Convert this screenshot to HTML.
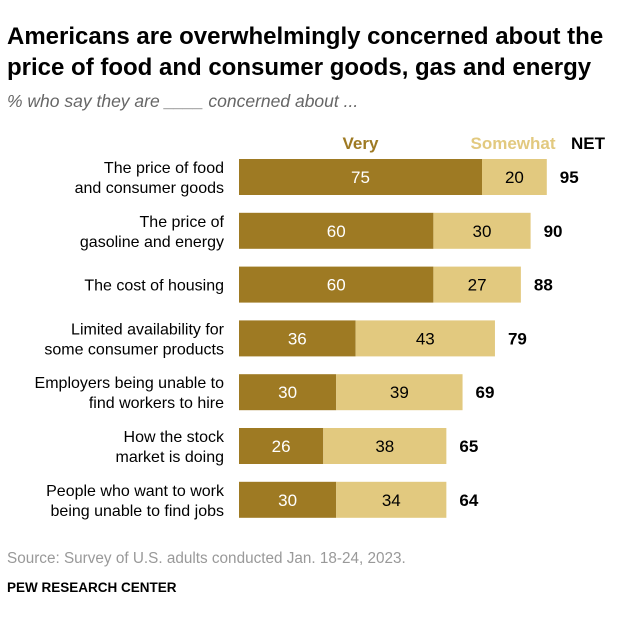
<!DOCTYPE html>
<html><head><meta charset="utf-8"><style>
body{margin:0;background:#fff;font-family:"Liberation Sans",sans-serif;}
#wrap{position:relative;width:639px;height:624px;overflow:hidden}
.t{position:absolute;white-space:nowrap}
</style></head><body><div id="wrap">
<div class="t" style="left:7px;top:21px;font-size:24px;font-weight:bold;line-height:31px;color:#000">Americans are overwhelmingly concerned about the<br>price of food and consumer goods, gas and energy</div>
<div class="t" style="left:7px;top:91px;font-size:17.5px;font-style:italic;color:#666">% who say they are ____ concerned about ...</div>
<svg id="svg" width="639" height="624" style="position:absolute;left:0;top:0"></svg>
<div class="t" style="left:7px;top:550px;font-size:15.3px;color:#999">Source: Survey of U.S. adults conducted Jan. 18-24, 2023.</div>
<div class="t" style="left:7px;top:580px;font-size:13.5px;font-weight:bold;color:#000">PEW RESEARCH CENTER</div>
</div>
<script>
const categories=[["The price of food","and consumer goods"],["The price of","gasoline and energy"],["The cost of housing"],["Limited availability for","some consumer products"],["Employers being unable to","find workers to hire"],["How the stock","market is doing"],["People who want to work","being unable to find jobs"]];
const veryValues=[75,60,60,36,30,26,30];
const somewhatValues=[20,30,27,43,39,38,34];
const netValues=[95,90,88,79,69,65,64];
const svg=document.getElementById('svg');const NS='http://www.w3.org/2000/svg';
const x0=239,k=3.24,y0=159,step=53.8,h=36,fs=17,lfs=16;
const xs=v=>x0+v*k, ys=i=>y0+i*step;
function mk(tag,a,txt){const e=document.createElementNS(NS,tag);for(const p in a)e.setAttribute(p,a[p]);if(txt!=null)e.textContent=txt;svg.appendChild(e);return e;}
let e;
e=mk('text',{x:xs(37.5),y:149,'text-anchor':'middle','font-size':fs,'font-weight':'bold',fill:'#9e7a23'},'Very');


e=mk('text',{x:513,y:149,'text-anchor':'middle','font-size':fs,'font-weight':'bold',fill:'#e2c97f'},'Somewhat');


e=mk('text',{x:588,y:149,'text-anchor':'middle','font-size':fs,'font-weight':'bold',fill:'#000'},'NET');


categories.forEach((c,i)=>{
 const y=ys(i),cy=y+h/2+6;
 const lab=mk('text',{x:224,'text-anchor':'end','font-size':lfs,fill:'#000'});
 
 
 c.forEach((l,j)=>{const ts=document.createElementNS(NS,'tspan');ts.setAttribute('x',224);ts.setAttribute('y',c.length==1?cy:cy-10+j*20);ts.textContent=l;lab.appendChild(ts);});
 const v=veryValues[i],s=somewhatValues[i];
 e=mk('rect',{x:xs(0),y:y,width:v*k,height:h,fill:'#9e7a23'});
 
 
 e=mk('rect',{x:xs(v),y:y,width:s*k,height:h,fill:'#e2c97f'});
 
 
 e=mk('text',{x:xs(v/2),y:cy,'text-anchor':'middle','font-size':fs,fill:'#fff'},v);
 
 
 e=mk('text',{x:xs(v+s/2),y:cy,'text-anchor':'middle','font-size':fs,fill:'#000'},s);
 
 
 e=mk('text',{x:xs(v+s)+13,y:cy,'font-size':fs,'font-weight':'bold',fill:'#000'},netValues[i]);
 
 
});
</script></body></html>
